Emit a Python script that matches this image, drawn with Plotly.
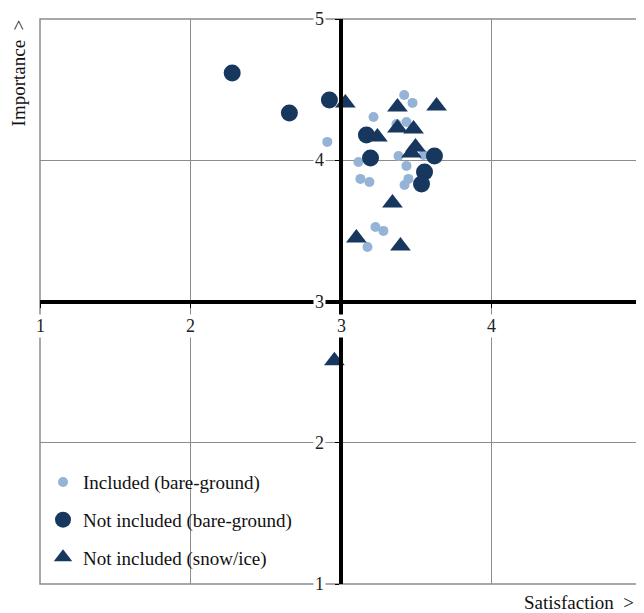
import plotly.graph_objects as go

# Included (bare-ground)
inc_x = [3.42, 3.475, 3.216, 2.909, 3.369, 3.435, 3.116, 3.382, 3.435, 3.548, 3.129, 3.189, 3.422, 3.448, 3.229, 3.282, 3.176]
inc_y = [4.462, 4.406, 4.306, 4.130, 4.257, 4.271, 3.988, 4.030, 3.960, 4.038, 3.868, 3.846, 3.825, 3.868, 3.528, 3.500, 3.386]

# Not included (bare-ground)
nib_x = [2.277, 2.657, 2.923, 3.169, 3.196, 3.621, 3.555, 3.535]
nib_y = [4.618, 4.335, 4.427, 4.179, 4.016, 4.030, 3.917, 3.832]

# Not included (snow/ice)
nis_x = [3.029, 3.375, 3.635, 3.242, 3.375, 3.482, 3.495, 3.468, 3.342, 3.102, 3.395, 2.956]
nis_y = [4.406, 4.377, 4.384, 4.165, 4.229, 4.222, 4.094, 4.052, 3.698, 3.450, 3.393, 2.580]

tick_vals = [1, 2, 3, 4, 5]
tick_text = ["1", "2", "3", "4", "5"]
cross = 3  # where the axes cross

DARK = "#17375e"
LIGHT = "#95b3d7"
FONT = "Liberation Serif"

fig = go.Figure()
fig.add_trace(go.Scatter(x=inc_x, y=inc_y, mode="markers", name="Included (bare-ground)",
                         legendgroup="a",
                         marker=dict(symbol="circle", size=10, color=LIGHT)))
fig.add_trace(go.Scatter(x=nib_x, y=nib_y, mode="markers", name="Not included (bare-ground)",
                         legendgroup="b",
                         marker=dict(symbol="circle", size=17, color=DARK)))
fig.add_trace(go.Scatter(x=nis_x, y=nis_y, mode="markers", name="Not included (snow/ice)",
                         legendgroup="c",
                         marker=dict(symbol="triangle-up", size=18, color=DARK)))

axis_common = dict(
    range=[1, 5], tickvals=tick_vals, showticklabels=False,
    showgrid=True, gridcolor="#8c8c8c", gridwidth=1,
    zeroline=False, showline=True, linecolor="black", linewidth=4,
    ticks="outside", ticklen=4, tickcolor="black", tickwidth=1,
    anchor="free", position=0.5,
)

tick_font = dict(family=FONT, size=18, color="#222")
annotations = []
for v, t in zip(tick_vals, tick_text):
    annotations.append(dict(x=v, y=cross, xref="x", yref="y", text=t, showarrow=False,
                            xanchor="center", yanchor="middle", yshift=-24,
                            bgcolor="white", borderpad=1, font=tick_font))
    annotations.append(dict(x=cross, y=v, xref="x", yref="y", text=t, showarrow=False,
                            xanchor="right", yanchor="middle", xshift=-15,
                            bgcolor="white", borderpad=1, font=tick_font))

annotations += [
    dict(text="Importance  >", xref="paper", yref="paper", x=-0.0365, y=1.002,
         xanchor="center", yanchor="top", textangle=-90, showarrow=False,
         font=dict(family=FONT, size=19, color="#111")),
    dict(text="Satisfaction  >", xref="paper", yref="paper", x=0.99, y=-0.0325,
         xanchor="right", yanchor="middle", showarrow=False,
         font=dict(family=FONT, size=19, color="#111")),
]

fig.update_layout(
    width=636, height=605,
    margin=dict(l=32, r=2, t=11, b=29, autoexpand=False),
    paper_bgcolor="white", plot_bgcolor="white",
    xaxis=axis_common,
    yaxis=axis_common,
    showlegend=True,
    legend=dict(x=0.005, y=0.214, xanchor="left", yanchor="top",
                bgcolor="rgba(0,0,0,0)", font=dict(family=FONT, size=19, color="#111"),
                traceorder="grouped", tracegroupgap=10, itemsizing="trace"),
    font=dict(family=FONT),
    shapes=[dict(type="rect", xref="paper", yref="paper", x0=0, x1=1, y0=0, y1=1,
                 line=dict(color="#8c8c8c", width=1.5), layer="below")],
    annotations=annotations,
)

fig.write_html("out.html")
